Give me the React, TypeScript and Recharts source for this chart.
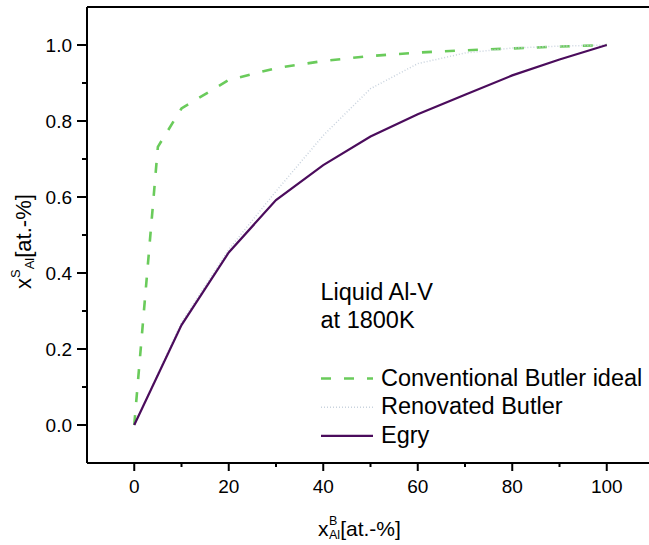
import { CartesianGrid, Line, LineChart, XAxis, YAxis } from "recharts"

// x axis: B-side mole fraction of Al; green curve has an extra point at 5
const X_FINE = [0, 5, 10, 20, 30, 40, 50, 60, 70, 80, 90, 100]
const X_COARSE = [0, 10, 20, 30, 40, 50, 60, 70, 80, 90, 100]

const CONVENTIONAL = [0, 0.732, 0.833, 0.908, 0.939, 0.958, 0.971, 0.98, 0.986, 0.991, 0.996, 1.0]
const RENOVATED = [0, 0.27, 0.462, 0.615, 0.762, 0.885, 0.951, 0.979, 0.992, 0.997, 1.0]
const EGRY = [0, 0.263, 0.454, 0.592, 0.684, 0.759, 0.818, 0.869, 0.92, 0.962, 1.0]

const X_TICKS = [0, 10, 20, 30, 40, 50, 60, 70, 80, 90, 100]
const Y_TICKS = [0, 0.1, 0.2, 0.3, 0.4, 0.5, 0.6, 0.7, 0.8, 0.9, 1.0]
const X_GRID = [0, 20, 40, 60, 80, 100]
const Y_GRID = [0, 0.2, 0.4, 0.6, 0.8, 1.0]

const FONT = '"Liberation Sans", Arial, sans-serif'

const SERIES = [
  { key: "conv", name: "Conventional Butler ideal", xs: X_FINE, ys: CONVENTIONAL, color: "#6acb5b", width: 2.6, dash: "10 13" },
  { key: "reno", name: "Renovated Butler", xs: X_COARSE, ys: RENOVATED, color: "#c9d3de", width: 1.5, dash: "1 2" },
  { key: "egry", name: "Egry", xs: X_COARSE, ys: EGRY, color: "#4b0c5c", width: 2.2, dash: undefined },
]

const isMajorX = (v: number) => v % 20 === 0
const isMajorY = (v: number) => Math.round(v * 10) % 2 === 0

function BottomTick({ x, y, payload }: any) {
  const major = isMajorX(payload.value)
  return (
    <g>
      <line x1={x} y1={y} x2={x} y2={y + (major ? 8 : 4)} stroke="#000" strokeWidth={2} />
      {major && (
        <text x={x} y={y + 30} textAnchor="middle" fontSize={19} fontFamily={FONT} fill="#000">
          {payload.value}
        </text>
      )}
    </g>
  )
}

function TopTick({ x, y, payload }: any) {
  const major = isMajorX(payload.value)
  return <line x1={x} y1={y} x2={x} y2={y + (major ? 9 : 4)} stroke="#000" strokeWidth={2} />
}

function LeftTick({ x, y, payload }: any) {
  const major = isMajorY(payload.value)
  return (
    <g>
      <line x1={x} y1={y} x2={x - (major ? 10 : 5)} y2={y} stroke="#000" strokeWidth={2} />
      {major && (
        <text x={x - 15} y={y + 6.5} textAnchor="end" fontSize={19} fontFamily={FONT} fill="#000">
          {payload.value.toFixed(1)}
        </text>
      )}
    </g>
  )
}

function RightTick({ x, y, payload }: any) {
  const major = isMajorY(payload.value)
  return <line x1={x} y1={y} x2={x - (major ? 8 : 4)} y2={y} stroke="#000" strokeWidth={2} />
}

export default function App() {
  const axisLine = { stroke: "#000", strokeWidth: 2 }
  return (
    <div style={{ position: "absolute", left: 0, top: 0, width: 649, height: 545, overflow: "hidden", background: "#fff" }}>
      <LineChart width={660} height={545} margin={{ top: 7, right: 6, bottom: 52, left: 27 }}>
        <CartesianGrid
          stroke="#9c9c9c"
          strokeDasharray="1 2"
          verticalValues={X_GRID}
          horizontalValues={Y_GRID}
        />
        <XAxis
          xAxisId="b"
          type="number"
          dataKey="x"
          domain={[-10, 110]}
          ticks={X_TICKS}
          allowDataOverflow
          tickSize={0}
          tickMargin={0}
          tick={BottomTick}
          tickLine={false}
          axisLine={axisLine}
        />
        <XAxis
          xAxisId="t"
          orientation="top"
          mirror
          type="number"
          domain={[-10, 110]}
          ticks={X_TICKS}
          tickSize={0}
          tickMargin={0}
          tick={TopTick}
          tickLine={false}
          axisLine={axisLine}
        />
        <YAxis
          yAxisId="l"
          type="number"
          domain={[-0.1, 1.1]}
          ticks={Y_TICKS}
          allowDataOverflow
          width={60}
          tickSize={0}
          tickMargin={0}
          tick={LeftTick}
          tickLine={false}
          axisLine={axisLine}
        />
        <YAxis
          yAxisId="r"
          orientation="right"
          mirror
          type="number"
          domain={[-0.1, 1.1]}
          ticks={Y_TICKS}
          tickSize={0}
          tickMargin={0}
          tick={RightTick}
          tickLine={false}
          axisLine={axisLine}
        />
        {SERIES.map((s) => (
          <Line
            key={s.key}
            xAxisId="b"
            yAxisId="l"
            data={s.xs.map((x, i) => ({ x, y: s.ys[i] }))}
            dataKey="y"
            name={s.name}
            type="linear"
            stroke={s.color}
            strokeWidth={s.width}
            strokeDasharray={s.dash}
            dot={false}
            activeDot={false}
            isAnimationActive={false}
          />
        ))}
      </LineChart>

      <svg
        width={649}
        height={545}
        style={{ position: "absolute", left: 0, top: 0, pointerEvents: "none" }}
        fontFamily={FONT}
      >
        {/* annotation + legend panel sits on a white box that hides the grid */}
        <rect x={317} y={273.5} width={330} height={182} fill="#fff" />
        <text x={320.5} y={299.5} fontSize={23.5} fill="#000">Liquid Al-V</text>
        <text x={320.5} y={327.5} fontSize={23.5} fill="#000">at 1800K</text>
        {SERIES.map((s, i) => (
          <g key={s.key}>
            <line
              x1={321}
              x2={373}
              y1={378.5 + i * 28.7}
              y2={378.5 + i * 28.7}
              stroke={s.color}
              strokeWidth={s.width}
              strokeDasharray={s.dash}
            />
            <text x={381} y={385.5 + i * 28.7} fontSize={23.5} fill="#000">{s.name}</text>
          </g>
        ))}

        <text x={318} y={536} fontSize={21} fill="#000">
          x
          <tspan x={329} dy={-11} fontSize={12.5}>B</tspan>
          <tspan x={329} dy={13.5} fontSize={12.5}>Al</tspan>
          <tspan dy={-2.5}>[at.-%]</tspan>
        </text>

        <text transform="translate(31, 289) rotate(-90)" fontSize={22} fill="#000">
          x
          <tspan dy={-11} fontSize={13}>S</tspan>
          <tspan dy={13.5} fontSize={13}>Al</tspan>
          <tspan dy={-2.5}>[at.-%]</tspan>
        </text>
      </svg>
    </div>
  )
}
